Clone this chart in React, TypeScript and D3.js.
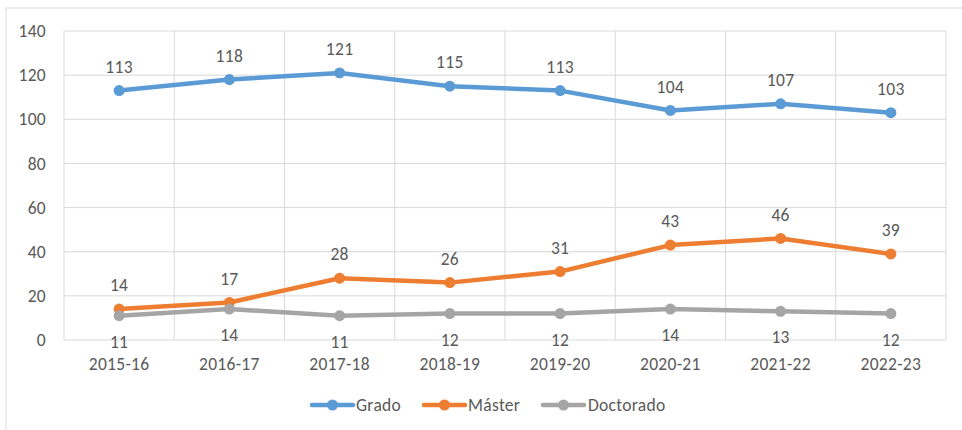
import React from "react";
import * as d3 from "d3";

const categories = ["2015-16", "2016-17", "2017-18", "2018-19", "2019-20", "2020-21", "2021-22", "2022-23"];
const grado = [113, 118, 121, 115, 113, 104, 107, 103];
const master = [14, 17, 28, 26, 31, 43, 46, 39];
const doctorado = [11, 14, 11, 12, 12, 14, 13, 12];
const yTicks = [0, 20, 40, 60, 80, 100, 120, 140];

const series = [
  { name: "Grado", values: grado, color: "#5B9BD5", labelPos: "above" },
  { name: "Máster", values: master, color: "#ED7D31", labelPos: "above" },
  { name: "Doctorado", values: doctorado, color: "#A5A5A5", labelPos: "below" },
];

const margin = { top: 31, right: 16, bottom: 90, left: 56 };
const width = 962;
const height = 430;
const font = "Carlito, Calibri, 'Liberation Sans', sans-serif";
const textColor = "#595959";
const fs = 17.5;
const ls = 0.3;

export default function App() {
  const plotLeft = 8 + margin.left;
  const plotRight = width - margin.right;
  const plotTop = margin.top;
  const plotBottom = height - margin.bottom;

  const x = d3.scaleBand().domain(categories).range([plotLeft, plotRight]);
  const y = d3.scaleLinear().domain([0, 140]).range([plotBottom, plotTop]);
  const cx = (c: string) => (x(c) ?? 0) + x.bandwidth() / 2;

  const line = d3
    .line<number>()
    .x((_, i) => cx(categories[i]))
    .y((d) => y(d));

  const legendItems = [
    { x: 312, text: 356 },
    { x: 424, text: 468 },
    { x: 543, text: 588 },
  ];

  return (
    <svg
      width={width}
      height={height}
      style={{ position: "absolute", left: 0, top: 0, fontFamily: font, letterSpacing: ls }}
    >
      <rect x={0} y={0} width={width} height={height} fill="#fff" />
      <rect x={6} y={8} width={width + 10} height={height + 10} fill="none" stroke="#D9D9D9" />

      {/* horizontal gridlines */}
      {yTicks.map((t) => (
        <g key={t}>
          <line x1={plotLeft} x2={plotRight} y1={y(t)} y2={y(t)} stroke="#D9D9D9" />
          <text
            x={plotLeft - 18}
            y={y(t)}
            dy="0.35em"
            textAnchor="end"
            fontSize={fs}
            fill={textColor}
          >
            {t}
          </text>
        </g>
      ))}

      {/* vertical gridlines */}
      {categories.map((c) => (
        <line
          key={c}
          x1={x(c)}
          x2={x(c)}
          y1={plotTop}
          y2={plotBottom}
          stroke="#D9D9D9"
        />
      ))}
      <line x1={plotRight} x2={plotRight} y1={plotTop} y2={plotBottom} stroke="#D9D9D9" />

      {categories.map((c) => (
        <text
          key={c}
          x={cx(c)}
          y={plotBottom + 23.5}
          dy="0.35em"
          textAnchor="middle"
          fontSize={fs}
          fill={textColor}
        >
          {c}
        </text>
      ))}

      {series.map((s) => (
        <g key={s.name}>
          <path
            d={line(s.values) ?? ""}
            fill="none"
            stroke={s.color}
            strokeWidth={4.5}
            strokeLinejoin="round"
            strokeLinecap="round"
          />
          {s.values.map((v, i) => (
            <circle key={i} cx={cx(categories[i])} cy={y(v)} r={5.5} fill={s.color} />
          ))}
          {s.values.map((v, i) => (
            <text
              key={"l" + i}
              x={cx(categories[i])}
              y={s.labelPos === "above" ? y(v) - 24 : y(v) + 26}
              dy="0.35em"
              textAnchor="middle"
              fontSize={fs}
              fill={textColor}
            >
              {v}
            </text>
          ))}
        </g>
      ))}

      {series.map((s, i) => (
        <g key={"lg" + s.name}>
          <line
            x1={legendItems[i].x}
            x2={legendItems[i].x + 41}
            y1={405}
            y2={405}
            stroke={s.color}
            strokeWidth={4.5}
            strokeLinecap="round"
          />
          <circle cx={legendItems[i].x + 20.5} cy={405} r={5.5} fill={s.color} />
          <text
            x={legendItems[i].text}
            y={405}
            dy="0.35em"
            fontSize={fs}
            fill={textColor}
          >
            {s.name}
          </text>
        </g>
      ))}
    </svg>
  );
}
